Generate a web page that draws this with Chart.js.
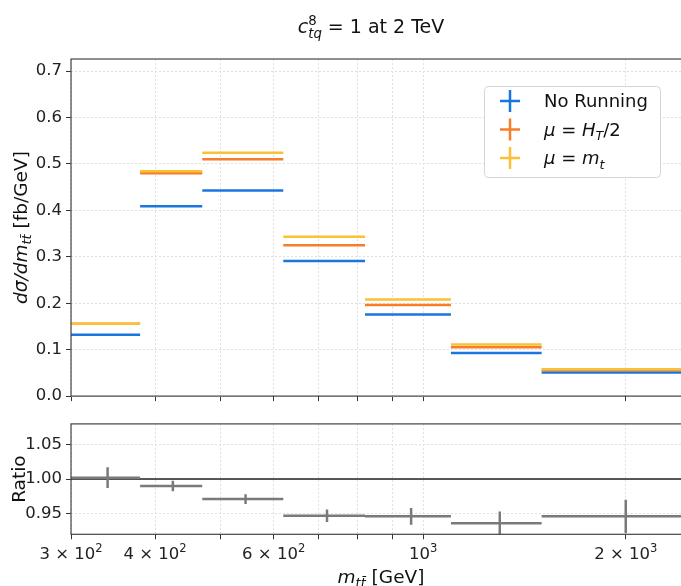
<!DOCTYPE html>
<html lang="en">
<head>
  <meta charset="UTF-8">
  <title>c_tq^8 = 1 at 2 TeV</title>
  <script src="https://cdn.jsdelivr.net/npm/chart.js"></script>
  <style>
    html, body { margin: 0; padding: 0; background: #fff; overflow: hidden; width: 681px; height: 586px; }
    canvas { position: absolute; left: 0; }
    #main-chart { top: 0; }
    #ratio-chart { top: 410px; }
  </style>
</head>
<body>
  <canvas id="main-chart" width="700" height="410"></canvas>
  <canvas id="ratio-chart" width="700" height="176"></canvas>

  <script>
    // bin edges of m_tt [GeV]
    const edges = [300, 380, 470, 620, 820, 1100, 1500, 2500];
    // dsigma/dm_tt [fb/GeV]
    const noRunning = [0.132, 0.409, 0.443, 0.291, 0.176, 0.093, 0.051];
    const muHT2 = [0.156, 0.480, 0.510, 0.325, 0.196, 0.105, 0.056];
    const muMt = [0.1557, 0.484, 0.524, 0.343, 0.208, 0.111, 0.058];
    // ratio panel
    const ratio = [1.002, 0.990, 0.971, 0.947, 0.946, 0.936, 0.946];
    const ratioErr = [0.015, 0.0075, 0.007, 0.009, 0.012, 0.017, 0.024];
    // ticks
    const xTicks = [300, 400, 500, 600, 700, 800, 900, 1000, 2000];
    const xTickLabels = { 300: ['3', '2'], 400: ['4', '2'], 600: ['6', '2'], 1000: ['', '3'], 2000: ['2', '3'] };
    const yTicks = [0, 0.1, 0.2, 0.3, 0.4, 0.5, 0.6, 0.7];
    const ratioTicks = [0.95, 1.00, 1.05];

    const BLUE = 'rgb(27,117,222)';
    const ORANGE = 'rgb(247,125,42)';
    const YELLOW = 'rgb(251,193,50)';
    const GRAY = 'rgb(122,122,122)';
    const FONT = '"DejaVu Sans", sans-serif';
    const LABEL_SIZE = 18.5;

    // one horizontal segment per bin, broken by null points
    function binSteps(values) {
      const pts = [];
      values.forEach((v, i) => {
        pts.push({ x: edges[i], y: v }, { x: edges[i + 1], y: v }, { x: edges[i + 1], y: null });
      });
      return pts;
    }
    function errBars(values, errs) {
      const pts = [];
      values.forEach((v, i) => {
        const c = (edges[i] + edges[i + 1]) / 2;
        pts.push({ x: c, y: v - errs[i] }, { x: c, y: v + errs[i] }, { x: c, y: null });
      });
      return pts;
    }

    // small rich-text drawer for math-ish labels
    function fontOf(it, size) { return (it ? 'italic ' : '') + size + 'px ' + FONT; }
    function drawRich(ctx, parts, x, y, size, align) {
      let w = 0;
      parts.forEach(p => {
        const s = p.pos ? size * 0.7 : size;
        ctx.font = fontOf(p.it, s);
        p._w = ctx.measureText(p.t).width;
        if (!p.stack) w += p._w;
      });
      let cx = align === 'center' ? x - w / 2 : x;
      const base = y + size * 0.36;
      ctx.textAlign = 'left';
      ctx.textBaseline = 'alphabetic';
      parts.forEach(p => {
        const s = p.pos ? size * 0.7 : size;
        ctx.font = fontOf(p.it, s);
        let dy = 0;
        if (p.pos === 'sub') dy = size * 0.25;
        if (p.pos === 'sup') dy = -size * 0.42;
        ctx.fillText(p.t, cx, base + dy);
        if (!p.stack) cx += p._w;
      });
    }

    function xScale(tall) {
      return {
        type: 'logarithmic',
        min: edges[0],
        max: edges[edges.length - 1],
        afterBuildTicks: s => { s.ticks = xTicks.map(v => ({ value: v })); },
        afterFit: s => { s.height = tall ? 51.7 : 12; },
        ticks: { autoSkip: false, maxRotation: 0, callback: () => '' },
        grid: { color: '#e0e0e0', tickColor: '#333', tickLength: 5, lineWidth: 1 },
        border: { display: false, dash: [2, 2] }
      };
    }

    const framePlugin = {
      id: 'frame',
      afterDraw(chart, args, opts) {
        const ctx = chart.ctx;
        const a = chart.chartArea;
        ctx.save();
        ctx.strokeStyle = '#444';
        ctx.lineWidth = 1.2;
        ctx.strokeRect(a.left, a.top, a.right - a.left, a.bottom - a.top);
        ctx.fillStyle = '#111';
        opts.draw && opts.draw(ctx, a, chart);
        ctx.restore();
      }
    };

    function line(data, color, order, width) {
      return {
        data: data, borderColor: color, borderWidth: width || 2.5,
        pointRadius: 0, spanGaps: false, tension: 0, order: order, fill: false
      };
    }

    function yLabel(ctx, parts, x, yc) {
      ctx.save();
      ctx.translate(x, yc);
      ctx.rotate(-Math.PI / 2);
      drawRich(ctx, parts, 0, 0, LABEL_SIZE, 'center');
      ctx.restore();
    }

    new Chart(document.getElementById('main-chart'), {
      type: 'line',
      data: {
        datasets: [
          line(binSteps(noRunning), BLUE, 2),
          line(binSteps(muHT2), ORANGE, 1),
          line(binSteps(muMt), YELLOW, 0)
        ]
      },
      options: {
        responsive: false, animation: false, devicePixelRatio: 1, events: [],
        layout: { padding: { top: 59, right: 9, left: 0, bottom: 0 } },
        plugins: {
          legend: { display: false }, tooltip: { enabled: false },
          frame: {
            draw(ctx, a) {
              // title
              drawRich(ctx, [
                { t: 'c', it: true },
                { t: '8', pos: 'sup', stack: true },
                { t: 'tq', it: true, pos: 'sub' },
                { t: ' = 1 at 2 TeV' }
              ], 371, 26, 19, 'center');
              yLabel(ctx, [
                { t: 'dσ/dm', it: true },
                { t: 'tt\u0304', it: true, pos: 'sub' },
                { t: ' [fb/GeV]' }
              ], 20, (a.top + a.bottom) / 2);
              // legend
              const bx = 484, by = 86, bw = 176, bh = 91;
              ctx.fillStyle = 'rgba(255,255,255,0.85)';
              ctx.strokeStyle = '#d4d4d4';
              ctx.lineWidth = 1;
              ctx.beginPath();
              ctx.roundRect(bx + 0.5, by + 0.5, bw, bh, 4);
              ctx.fill();
              ctx.stroke();
              const entries = [
                { c: BLUE, y: 101, parts: [{ t: 'No Running' }] },
                { c: ORANGE, y: 129.5, parts: [{ t: 'μ', it: true }, { t: ' = ' }, { t: 'H', it: true }, { t: 'T', it: true, pos: 'sub' }, { t: '/2' }] },
                { c: YELLOW, y: 158, parts: [{ t: 'μ', it: true }, { t: ' = ' }, { t: 'm', it: true }, { t: 't', it: true, pos: 'sub' }] }
              ];
              entries.forEach(e => {
                ctx.strokeStyle = e.c;
                ctx.lineWidth = 2.5;
                ctx.beginPath();
                ctx.moveTo(500, e.y); ctx.lineTo(520, e.y);
                ctx.moveTo(510, e.y - 11); ctx.lineTo(510, e.y + 11);
                ctx.stroke();
                ctx.fillStyle = '#111';
                drawRich(ctx, e.parts, 544, e.y, 18, 'left');
              });
            }
          }
        },
        scales: {
          x: xScale(false),
          y: {
            min: 0, max: 0.726,
            afterBuildTicks: s => { s.ticks = yTicks.map(v => ({ value: v })); },
            afterFit: s => { s.width = 71; },
            ticks: { padding: 4, color: '#222', font: { family: FONT, size: 16.5 }, callback: v => v.toFixed(1) },
            grid: { color: '#e0e0e0', tickColor: '#333', tickLength: 5 },
            border: { display: false, dash: [2, 2] }
          }
        }
      },
      plugins: [framePlugin]
    });

    new Chart(document.getElementById('ratio-chart'), {
      type: 'line',
      data: {
        datasets: [
          line([{ x: edges[0], y: 1 }, { x: edges[edges.length - 1], y: 1 }], '#222', 2, 1.5),
          line(binSteps(ratio), GRAY, 1),
          line(errBars(ratio, ratioErr), GRAY, 0)
        ]
      },
      options: {
        responsive: false, animation: false, devicePixelRatio: 1, events: [],
        layout: { padding: { top: 11.7, right: 9, left: 0, bottom: 0 } },
        plugins: {
          legend: { display: false }, tooltip: { enabled: false },
          frame: {
            draw(ctx, a, chart) {
              yLabel(ctx, [{ t: 'Ratio' }], 18, (a.top + a.bottom) / 2);
              // x tick labels as a × 10^b
              const xs = chart.scales.x;
              ctx.fillStyle = '#222';
              xTicks.forEach(v => {
                const lab = xTickLabels[v];
                if (!lab) return;
                const parts = lab[0] ? [{ t: lab[0] + ' × 10' }] : [{ t: '10' }];
                parts.push({ t: lab[1], pos: 'sup' });
                drawRich(ctx, parts, xs.getPixelForValue(v), 143, 16.5, 'center');
              });
              ctx.fillStyle = '#111';
              drawRich(ctx, [
                { t: 'm', it: true },
                { t: 'tt\u0304', it: true, pos: 'sub' },
                { t: ' [GeV]' }
              ], (a.left + a.right) / 2, 166, LABEL_SIZE, 'center');
            }
          }
        },
        scales: {
          x: xScale(true),
          y: {
            min: 0.92, max: 1.08,
            afterBuildTicks: s => { s.ticks = ratioTicks.map(v => ({ value: v })); },
            afterFit: s => { s.width = 71; },
            ticks: { padding: 4, color: '#222', font: { family: FONT, size: 16.5 }, callback: v => v.toFixed(2) },
            grid: { color: '#e0e0e0', tickColor: '#333', tickLength: 5 },
            border: { display: false, dash: [2, 2] }
          }
        }
      },
      plugins: [framePlugin]
    });
  </script>
</body>
</html>
